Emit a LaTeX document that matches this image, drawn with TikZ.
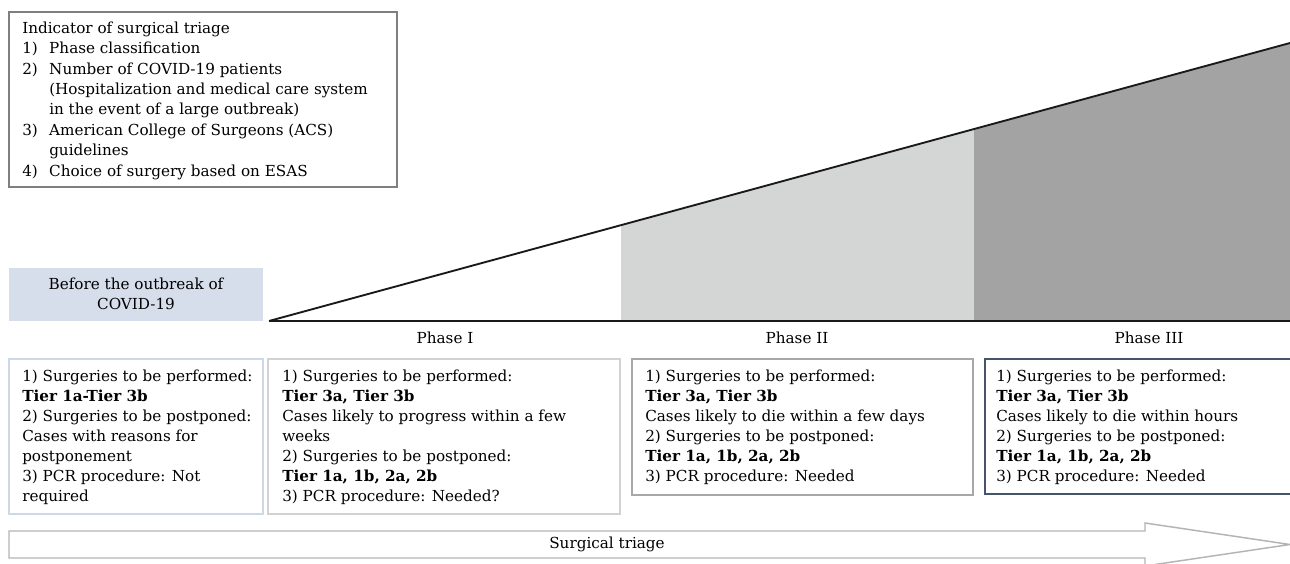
\documentclass[tikz,border=0pt]{standalone}
\usepackage{fontspec}
\setmainfont{DejaVu Serif}
\definecolor{indborder}{RGB}{127,127,127}
\definecolor{beforefill}{RGB}{214,221,235}
\definecolor{boxone}{RGB}{205,216,232}
\definecolor{boxtwo}{RGB}{210,210,210}
\definecolor{boxthree}{RGB}{168,168,168}
\definecolor{boxfour}{RGB}{68,84,106}
\definecolor{phtwo}{RGB}{212,213,213}
\definecolor{phthree}{RGB}{163,163,163}
\definecolor{arrowgray}{RGB}{180,180,180}
\newcommand\itm[1]{\makebox[20.25pt][l]{#1}}
\newcommand\cont{\hspace*{20.25pt}}
\begin{document}
\begin{tikzpicture}[x=0.75pt,y=-0.75pt,
  txt/.style={inner sep=0pt, align=left, anchor=north west, text=black,
    font=\fontsize{11.4}{15}\selectfont},
  indtxt/.style={txt, font=\fontsize{11.4}{15.3}\selectfont},
  lbl/.style={inner sep=0pt, text=black, font=\fontsize{11.4}{15}\selectfont},
  panel/.style={line width=1.5pt, fill=white}]
\clip (0,0) rectangle (1290,564);
\fill[white] (0,0) rectangle (1290,564);

% indicator box
\draw[panel, draw=indborder] (9,12) rectangle (397,187);
\node[indtxt] (ind) at (22,21) {\rule{0pt}{9pt}Indicator of surgical triage\\
\itm{1)}Phase classification\\
\itm{2)}Number of COVID-19 patients\\
\cont(Hospitalization and medical care system\\
\cont in the event of a large outbreak)\\
\itm{3)}American College of Surgeons (ACS)\\
\cont guidelines\\
\itm{4)}Choice of surgery based on ESAS};

% before box
\fill[beforefill] (9,268) rectangle (263,321);
\node[lbl, align=center] (before) at (136,294) {Before the outbreak of\\COVID-19};

% triangle
\coordinate (t0) at (269,321);
\coordinate (t1) at (1290,43);
\coordinate (t2) at (1290,321);
\fill[phtwo] (621,321) -- (621,225.2) -- (974,129) -- (974,321) -- cycle;
\fill[phthree] (974,321) -- (974,129) -- (t1) -- (t2) -- cycle;
\draw[line width=1.4pt, black!90] (t0) -- (t1);
\draw[line width=1.8pt, black!90] (t0) -- (t2);

\node[lbl] (p1) at (445,338) {Phase I};
\node[lbl] (p2) at (797,338) {Phase II};
\node[lbl] (p3) at (1149,338) {Phase III};

% bottom boxes
\draw[panel, draw=boxone] (9,359) rectangle (263,514);
\node[txt] (b1) at (22,369) {\rule{0pt}{9pt}1) Surgeries to be performed:\\
\textbf{Tier 1a-Tier 3b}\\
2) Surgeries to be postponed:\\
Cases with reasons for\\
postponement\\
3) PCR procedure: Not\\
required};

\draw[panel, draw=boxtwo] (268,359) rectangle (620,514);
\node[txt] (b2) at (282,369) {\rule{0pt}{9pt}1) Surgeries to be performed:\\
\textbf{Tier 3a, Tier 3b}\\
Cases likely to progress within a few\\
weeks\\
2) Surgeries to be postponed:\\
\textbf{Tier 1a, 1b, 2a, 2b}\\
3) PCR procedure: Needed?};

\draw[panel, draw=boxthree] (632,359) rectangle (973,495);
\node[txt] (b3) at (645,369) {\rule{0pt}{9pt}1) Surgeries to be performed:\\
\textbf{Tier 3a, Tier 3b}\\
Cases likely to die within a few days\\
2) Surgeries to be postponed:\\
\textbf{Tier 1a, 1b, 2a, 2b}\\
3) PCR procedure: Needed};

\draw[panel, draw=boxfour] (985,359) rectangle (1300,494);
\node[txt] (b4) at (996,369) {\rule{0pt}{9pt}1) Surgeries to be performed:\\
\textbf{Tier 3a, Tier 3b}\\
Cases likely to die within hours\\
2) Surgeries to be postponed:\\
\textbf{Tier 1a, 1b, 2a, 2b}\\
3) PCR procedure: Needed};

% surgical triage arrow
\draw[line width=1.1pt, draw=arrowgray, fill=white] (9,531) -- (1145,531) -- (1145,523) -- (1290,544.5) -- (1145,566) -- (1145,558) -- (9,558) -- cycle;
\node[lbl] (st) at (607,544.5) {Surgical triage};
\end{tikzpicture}
\end{document}
